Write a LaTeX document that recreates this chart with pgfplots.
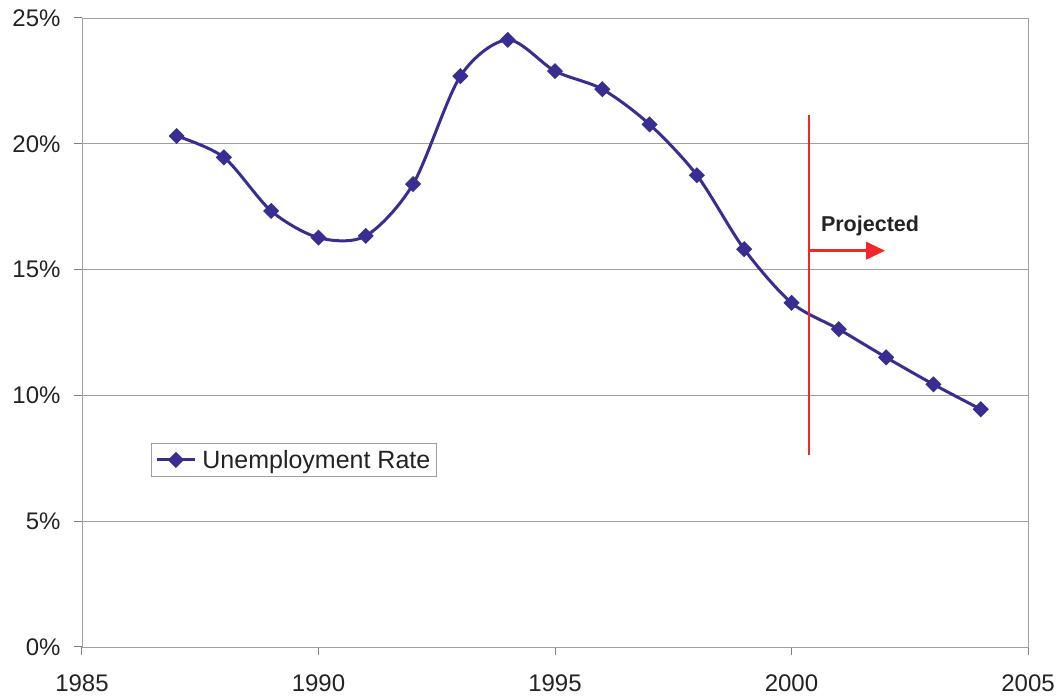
\documentclass[border=0pt]{standalone}
\usepackage{pgfplots}
\pgfplotsset{compat=1.18}
\usepackage{fontspec}
\setmainfont{Liberation Sans}
\usetikzlibrary{arrows.meta}
\definecolor{rateblue}{RGB}{56,46,145}
\definecolor{projred}{RGB}{240,40,40}
\definecolor{gridgray}{RGB}{160,160,160}
\definecolor{labelgray}{RGB}{35,35,35}

\begin{document}
\begin{tikzpicture}
\begin{axis}[
  scale only axis, width=946bp, height=629bp,
  xmin=1985, xmax=2005, ymin=0, ymax=25,
  xtick={1985,1990,1995,2000,2005},
  ytick={0,5,10,15,20,25},
  /pgf/number format/assume math mode=true,
  xticklabel style={/pgf/number format/1000 sep={}},
  yticklabel={\pgfmathprintnumber{\tick}\%},
  tick label style={font=\fontsize{24bp}{28bp}\selectfont, text=labelgray},
  xticklabel shift=16bp, yticklabel shift=10bp,
  ymajorgrids,
  grid style={gridgray, line width=0.8bp},
  axis line style={gridgray, line width=0.8bp},
  tick style={gridgray!80!black, line width=1bp},
  tick align=outside, major tick length=8bp,
  xtick pos=bottom, ytick pos=left,
  legend style={at={(0.073,0.27)}, anchor=south west, draw=gridgray,
    line width=0.8bp, font=\fontsize{25bp}{30bp}\selectfont,
    text=labelgray, inner xsep=4bp, inner ysep=5bp},
  legend cell align=left,
  legend image code/.code={%
    \draw[mark repeat=2, mark phase=2, #1]
      plot coordinates {(0bp,0bp) (19bp,0bp) (38bp,0bp)};},
]
\addplot[rateblue, line width=3bp, smooth, mark=square*,
  mark size=4.2bp, mark options={solid, fill=rateblue, rotate=45}]
  coordinates {
  (1987,20.31) (1988,19.46) (1989,17.33) (1990,16.27) (1991,16.34)
  (1992,18.40) (1993,22.69) (1994,24.13) (1995,22.89) (1996,22.17)
  (1997,20.77) (1998,18.75) (1999,15.81) (2000,13.68) (2001,12.63)
  (2002,11.51) (2003,10.44) (2004,9.45)
  };
\addlegendentry{\hspace{4bp}Unemployment Rate}

% boundary between observed and projected years
\draw[projred, line width=1.3bp] (axis cs:2000.37,21.14) -- (axis cs:2000.37,7.63);
\draw[projred, line width=3.5bp, -{Triangle[length=19bp,width=17bp]}]
  (axis cs:2000.37,15.75) -- (axis cs:2001.98,15.75);
\node[anchor=west, inner sep=0pt, text=labelgray,
  font=\bfseries\fontsize{21.5bp}{26bp}\selectfont]
  at (axis cs:2000.62,16.72) {Projected};

\coordinate (sw) at (rel axis cs:0,0);
\end{axis}
\pgfresetboundingbox
\path (sw) ++(-82bp,-53bp) rectangle ++(1060bp,700bp);
\end{tikzpicture}
\end{document}
